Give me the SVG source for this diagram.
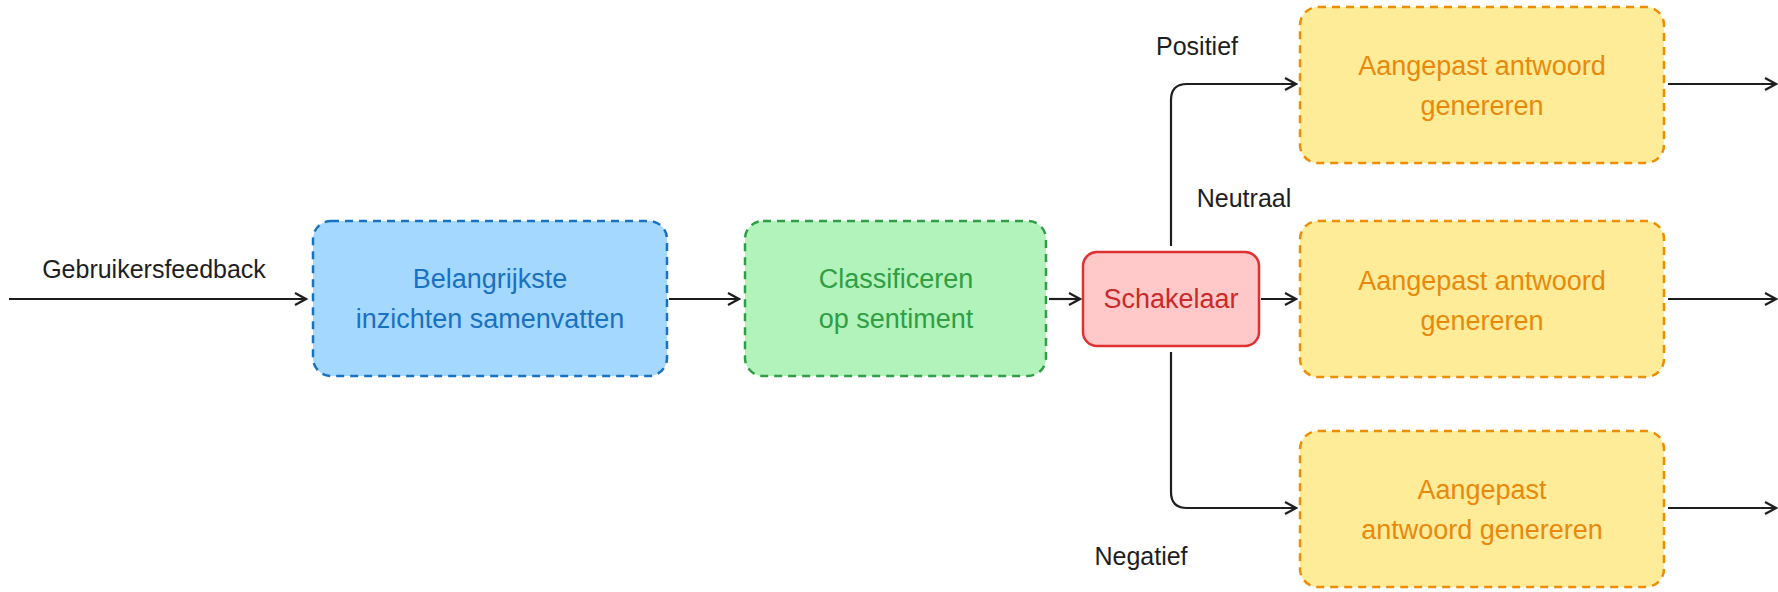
<svg xmlns="http://www.w3.org/2000/svg" width="1778" height="592" viewBox="0 0 1778 592">
<style>
text{font-family:"Liberation Sans",Arial,sans-serif;font-size:27px;text-anchor:middle}
.lbl{fill:#1e1e1e;font-size:25px}
.box{stroke-width:2.5;stroke-dasharray:8 6}
.c{fill:none;stroke:#1e1e1e;stroke-width:2.2}
.y rect{fill:#ffec99;stroke:#f08c00}
.y text{fill:#e8890c}
</style>
<defs><marker id="a" markerWidth="14" markerHeight="14" refX="12" refY="7" orient="auto" markerUnits="userSpaceOnUse"><path d="M1,1 L12,7 L1,13" fill="none" stroke="#1e1e1e" stroke-width="2.2"/></marker></defs>
<rect width="1778" height="592" fill="#ffffff"/>
<g id="connectors">
<path class="c" d="M9,299 H306" marker-end="url(#a)"/>
<path class="c" d="M669,299 H739" marker-end="url(#a)"/>
<path class="c" d="M1049,299 H1080" marker-end="url(#a)"/>
<path class="c" d="M1261,299 H1296" marker-end="url(#a)"/>
<path class="c" d="M1171,246 V100 Q1171,84 1187,84 H1296" marker-end="url(#a)"/>
<path class="c" d="M1171,352 V492 Q1171,508 1187,508 H1296" marker-end="url(#a)"/>
<path class="c" d="M1668,84 H1776" marker-end="url(#a)"/>
<path class="c" d="M1668,299 H1776" marker-end="url(#a)"/>
<path class="c" d="M1668,508 H1776" marker-end="url(#a)"/>
<text class="lbl" x="154" y="278">Gebruikersfeedback</text>
<text class="lbl" x="1197" y="55">Positief</text>
<text class="lbl" x="1244" y="207">Neutraal</text>
<text class="lbl" x="1141" y="565">Negatief</text>
</g>
<g id="summarize"><rect class="box" x="313" y="221" width="354" height="155" rx="18" fill="#a5d8ff" stroke="#1971c2"/><text x="490" y="288" fill="#1971c2">Belangrijkste</text><text x="490" y="328" fill="#1971c2">inzichten samenvatten</text></g>
<g id="classify"><rect class="box" x="745" y="221" width="301" height="155" rx="18" fill="#b2f2bb" stroke="#2f9e44"/><text x="896" y="288" fill="#2f9e44">Classificeren</text><text x="896" y="328" fill="#2f9e44">op sentiment</text></g>
<g id="switch"><rect x="1083" y="252" width="176" height="94" rx="14" fill="#ffc9c9" stroke="#e03131" stroke-width="2.5"/><text x="1171" y="308" fill="#c92a2a">Schakelaar</text></g>
<g id="pos" class="y"><rect class="box" x="1300" y="7" width="364" height="156" rx="18"/><text x="1482" y="75">Aangepast antwoord</text><text x="1482" y="115">genereren</text></g>
<g id="neu" class="y"><rect class="box" x="1300" y="221" width="364" height="156" rx="18"/><text x="1482" y="290">Aangepast antwoord</text><text x="1482" y="330">genereren</text></g>
<g id="neg" class="y"><rect class="box" x="1300" y="431" width="364" height="156" rx="18"/><text x="1482" y="499">Aangepast</text><text x="1482" y="539">antwoord genereren</text></g>
</svg>
